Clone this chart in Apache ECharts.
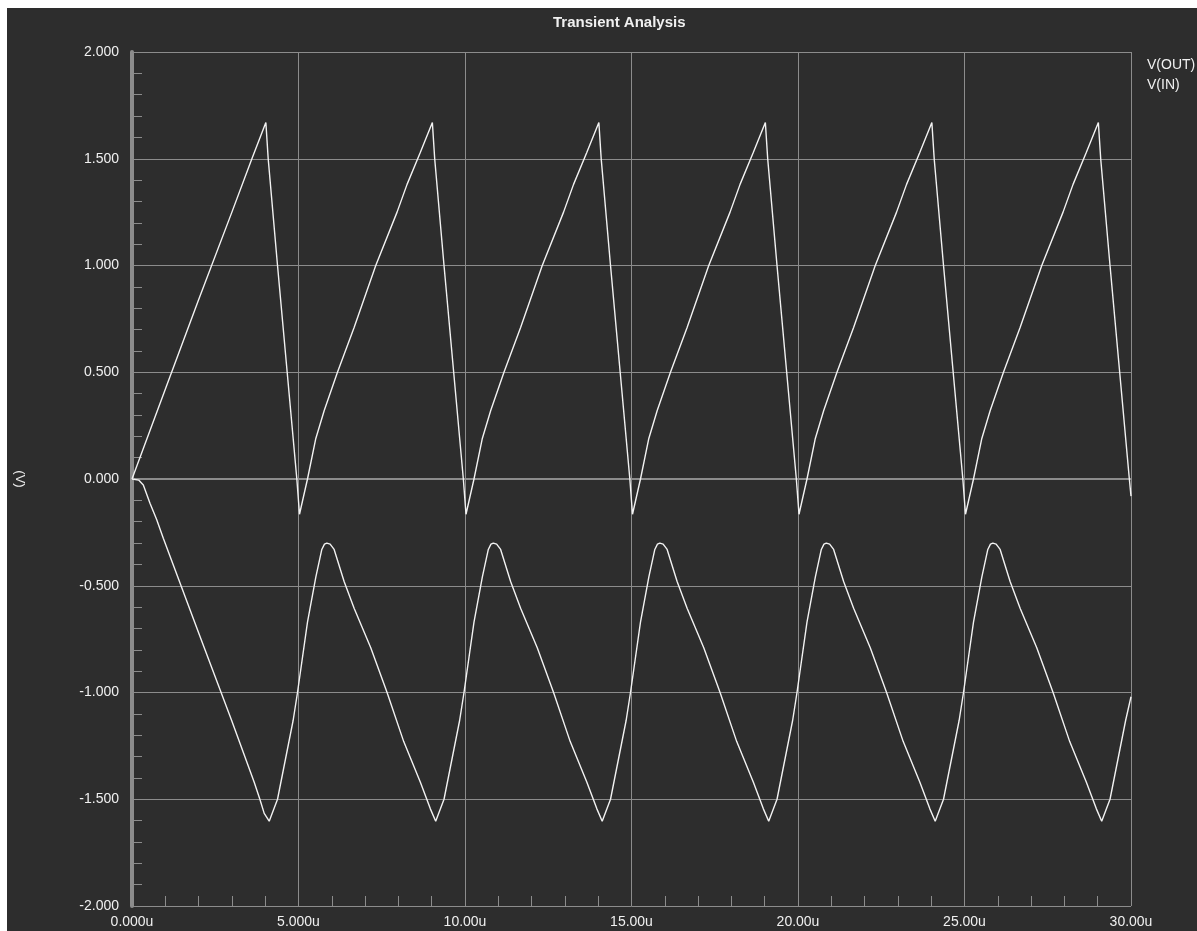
<!DOCTYPE html>
<html>
<head>
<meta charset="utf-8">
<script src="https://cdn.jsdelivr.net/npm/echarts@6/dist/echarts.min.js"></script>
<style>
html,body{margin:0;padding:0;background:#ffffff;width:1197px;height:931px;overflow:hidden;}
#chart{position:absolute;left:7px;top:8px;width:1190px;height:923px;background:#2d2d2d;}
</style>
</head>
<body>
<div id="chart"></div>
<script>
// Title, legend, axis labels
const chartTitle = "Transient Analysis";
const seriesNames = ["V(OUT)", "V(IN)"];
const yAxisName = "(V)";

// V(OUT): [time in µs, volts]
const vOutPoints = [
  [0,0],[1,0.42],[2,0.84],[3,1.25],[3.6,1.5],[4.02,1.67],
  [4.09,1.5],[4.37,1.0],[4.66,0.5],[4.95,0],[5.03,-0.165],
  [5.27,0],[5.52,0.19],[5.77,0.32],[6.17,0.5],[6.67,0.71],[7.32,1.0],[7.96,1.25],[8.26,1.38],[8.66,1.53],[9.02,1.67],
  [9.09,1.5],[9.37,1.0],[9.66,0.5],[9.95,0],[10.03,-0.165],
  [10.27,0],[10.52,0.19],[10.77,0.32],[11.17,0.5],[11.67,0.71],[12.32,1.0],[12.96,1.25],[13.26,1.38],[13.66,1.53],[14.02,1.67],
  [14.09,1.5],[14.37,1.0],[14.66,0.5],[14.95,0],[15.03,-0.165],
  [15.27,0],[15.52,0.19],[15.77,0.32],[16.17,0.5],[16.67,0.71],[17.32,1.0],[17.96,1.25],[18.26,1.38],[18.66,1.53],[19.02,1.67],
  [19.09,1.5],[19.37,1.0],[19.66,0.5],[19.95,0],[20.03,-0.165],
  [20.27,0],[20.52,0.19],[20.77,0.32],[21.17,0.5],[21.67,0.71],[22.32,1.0],[22.96,1.25],[23.26,1.38],[23.66,1.53],[24.02,1.67],
  [24.09,1.5],[24.37,1.0],[24.66,0.5],[24.95,0],[25.03,-0.165],
  [25.27,0],[25.52,0.19],[25.77,0.32],[26.17,0.5],[26.67,0.71],[27.32,1.0],[27.96,1.25],[28.26,1.38],[28.66,1.53],[29.02,1.67],
  [29.09,1.5],[29.37,1.0],[29.66,0.5],[29.95,0],[30,-0.08]
];

// V(IN): [time in µs, volts]
const vInPoints = [
  [0,0],[0.2,-0.005],[0.34,-0.028],[0.54,-0.114],[0.74,-0.19],[0.94,-0.278],[2.0,-0.72],[2.99,-1.13],[3.67,-1.42],[3.84,-1.5],[3.97,-1.566],[4.12,-1.603],
  [4.37,-1.5],[4.84,-1.13],[4.97,-1.0],[5.27,-0.67],[5.52,-0.46],[5.7,-0.33],[5.78,-0.305],[5.85,-0.30],[5.95,-0.305],[6.07,-0.33],[6.37,-0.48],[6.67,-0.605],[7.17,-0.79],[7.66,-1.0],[8.16,-1.23],[8.66,-1.42],[8.96,-1.545],[9.12,-1.603],
  [9.37,-1.5],[9.84,-1.13],[9.97,-1.0],[10.27,-0.67],[10.52,-0.46],[10.7,-0.33],[10.78,-0.305],[10.85,-0.30],[10.95,-0.305],[11.07,-0.33],[11.37,-0.48],[11.67,-0.605],[12.17,-0.79],[12.66,-1.0],[13.16,-1.23],[13.66,-1.42],[13.96,-1.545],[14.12,-1.603],
  [14.37,-1.5],[14.84,-1.13],[14.97,-1.0],[15.27,-0.67],[15.52,-0.46],[15.7,-0.33],[15.78,-0.305],[15.85,-0.30],[15.95,-0.305],[16.07,-0.33],[16.37,-0.48],[16.67,-0.605],[17.17,-0.79],[17.66,-1.0],[18.16,-1.23],[18.66,-1.42],[18.96,-1.545],[19.12,-1.603],
  [19.37,-1.5],[19.84,-1.13],[19.97,-1.0],[20.27,-0.67],[20.52,-0.46],[20.7,-0.33],[20.78,-0.305],[20.85,-0.30],[20.95,-0.305],[21.07,-0.33],[21.37,-0.48],[21.67,-0.605],[22.17,-0.79],[22.66,-1.0],[23.16,-1.23],[23.66,-1.42],[23.96,-1.545],[24.12,-1.603],
  [24.37,-1.5],[24.84,-1.13],[24.97,-1.0],[25.27,-0.67],[25.52,-0.46],[25.7,-0.33],[25.78,-0.305],[25.85,-0.30],[25.95,-0.305],[26.07,-0.33],[26.37,-0.48],[26.67,-0.605],[27.17,-0.79],[27.66,-1.0],[28.16,-1.23],[28.66,-1.42],[28.96,-1.545],[29.12,-1.603],
  [29.37,-1.5],[29.84,-1.13],[30,-1.02]
];

const xMin = 0, xMax = 30, xMajor = 5, xMinor = 1;
const yMin = -2, yMax = 2, yMajor = 0.5;

function fmtX(v){
  if (v === 0) return "0.000u";
  return (v < 10 ? v.toFixed(3) : v.toFixed(2)) + "u";
}

const gridCol = "#8c8c8c";
const textCol = "#f0f0f0";
const font = "'Liberation Sans', Arial, sans-serif";

const chart = echarts.init(document.getElementById('chart'), null, {renderer:'canvas'});
chart.setOption({
  backgroundColor: '#2d2d2d',
  animation: false,
  title: {
    text: chartTitle,
    left: 541, top: 2,
    textStyle: {color: textCol, fontSize: 15, fontWeight: 'bold', fontFamily: font}
  },
  legend: {
    data: seriesNames,
    orient: 'vertical',
    left: 1130, top: 45,
    icon: 'none',
    itemWidth: 0, itemHeight: 12, itemGap: 6,
    selectedMode: false,
    textStyle: {color: textCol, fontSize: 14, fontFamily: font}
  },
  grid: {left: 125, top: 44, width: 999, height: 854, containLabel: false, outerBoundsMode: 'none'},
  xAxis: [{
    type: 'value', min: xMin, max: xMax, interval: xMajor,
    axisLine: {show: true, lineStyle: {color: gridCol, width: 2}},
    axisTick: {show: true, inside: false, length: 6, lineStyle: {color: gridCol, width: 1}},
    axisLabel: {formatter: fmtX, color: textCol, fontSize: 14, fontFamily: font, margin: 9, showMinLabel: true, showMaxLabel: true},
    splitLine: {show: true, lineStyle: {color: gridCol, width: 1}}
  },{
    type: 'value', min: xMin, max: xMax, interval: xMinor, position: 'bottom',
    axisLine: {show: false},
    axisTick: {show: true, inside: true, length: 10, lineStyle: {color: gridCol, width: 1}},
    axisLabel: {show: false},
    splitLine: {show: false}
  }],
  yAxis: {
    type: 'value', min: yMin, max: yMax, interval: yMajor,
    name: yAxisName, nameLocation: 'middle', nameGap: 106, nameRotate: -90,
    nameTextStyle: {color: textCol, fontSize: 13, fontFamily: font},
    axisLine: {show: true, onZero: false, lineStyle: {color: gridCol, width: 4}},
    axisTick: {show: true, inside: true, length: 10, lineStyle: {color: gridCol, width: 1}},
    minorTick: {show: true, splitNumber: 5, length: 10, lineStyle: {color: gridCol, width: 1}},
    axisLabel: {formatter: v => v.toFixed(3), color: textCol, fontSize: 14, fontFamily: font, margin: 13},
    splitLine: {show: true, lineStyle: {color: gridCol, width: 1}}
  },
  series: [
    {name: seriesNames[0], type: 'line', data: vOutPoints, showSymbol: false, symbol: 'none',
     lineStyle: {color: '#f2f2f2', width: 1.4}, itemStyle: {color: '#f2f2f2'}, xAxisIndex: 0},
    {name: seriesNames[1], type: 'line', data: vInPoints, showSymbol: false, symbol: 'none',
     lineStyle: {color: '#f2f2f2', width: 1.4}, itemStyle: {color: '#f2f2f2'}, xAxisIndex: 0}
  ]
});
</script>
</body>
</html>
